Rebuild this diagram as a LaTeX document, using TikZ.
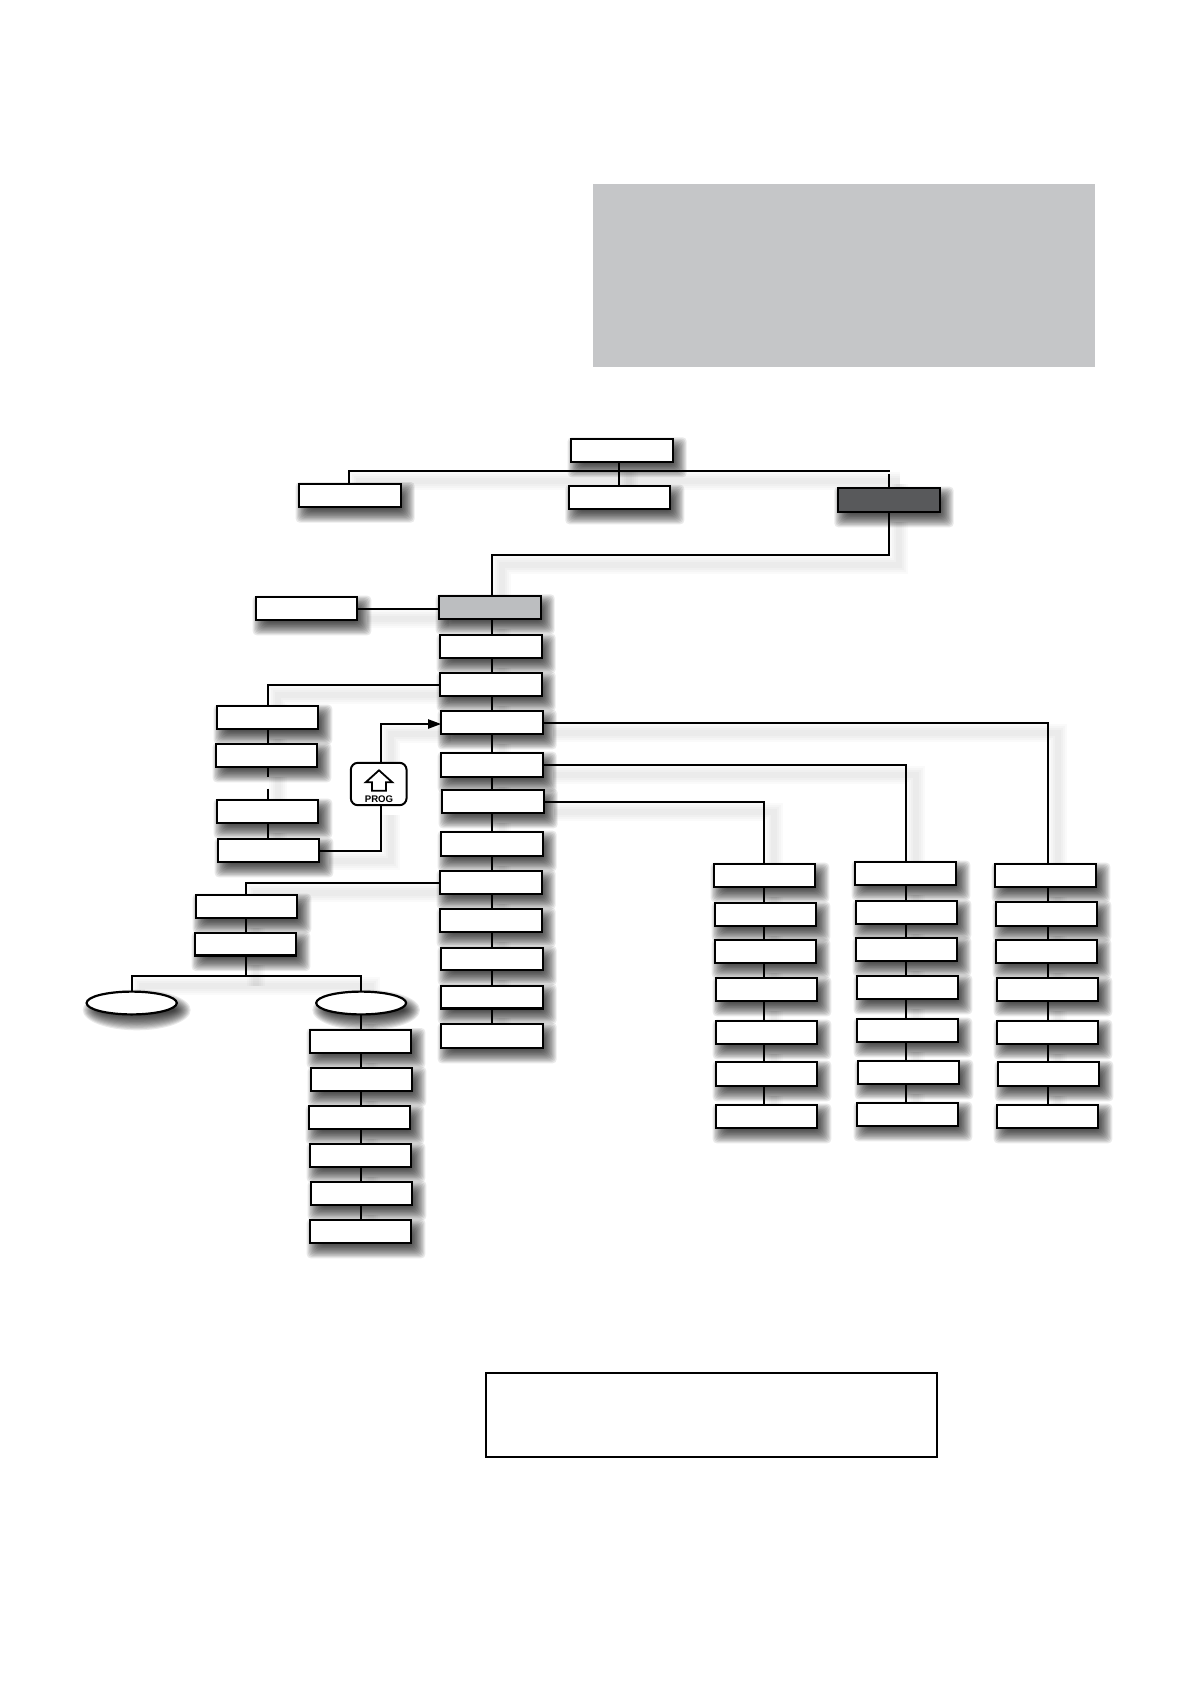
\documentclass[tikz,border=0pt]{standalone}
\usepackage{fontspec}
\setmainfont{Liberation Sans}
\usetikzlibrary{shapes.geometric,arrows.meta,calc}
\pgfdeclarelayer{shadowlayer}
\pgfdeclarelayer{connlayer}
\pgfsetlayers{shadowlayer,connlayer,main}
\definecolor{panelgray}{HTML}{C5C6C8}
\definecolor{midgray}{HTML}{BCBEC0}
\definecolor{darkgray}{HTML}{58595B}
\tikzset{
  wire/.style={draw=black,line width=2pt},
  wireshade/.style={draw=black,opacity=.02,line cap=butt,transform canvas={shift={(10pt,-10pt)}}},
  boxshape/.style={draw=black,line width=2.2pt,fill=white,rectangle,inner sep=0pt,outer sep=0pt},
  ellshape/.style={draw=black,line width=2.2pt,fill=white,ellipse,inner sep=0pt,outer sep=0pt},
  softshade/.style={fill=black,opacity=.085}
}
% plain box without shadow: name, x0,y0,x1,y1, options
\newcommand\plainbox[6][]{%
  \node[boxshape,#1,minimum width={(#4-#2-1.6)*1pt},minimum height={(#5-#3-1.2)*1pt}]
    (#6) at ({(#2+#4)/2-0.3},{(#3+#5)/2}) {};}
% box with soft shadow
\newcommand\shbox[6][]{%
  \begin{pgfonlayer}{shadowlayer}
    \foreach \e in {8,6.8,5.6,4.4,3.2,2,0.8,-0.4,-1.6,-2.8,-4,-5.2,-6.4,-7.6}{%
      \fill[softshade,rounded corners=4pt] ({#2+5-\e},{#3+7-\e}) rectangle ({#4+5+\e},{#5+7+\e});}
  \end{pgfonlayer}%
  \plainbox[#1]{#2}{#3}{#4}{#5}{#6}}
% ellipse with soft shadow
\newcommand\sell[5]{%
  \begin{pgfonlayer}{shadowlayer}
    \foreach \e in {8,6.8,5.6,4.4,3.2,2,0.8,-0.4,-1.6,-2.8,-4,-5.2,-6.4,-7.6}{%
      \pgfmathsetmacro\rx{(#3-#1)/2+\e}\pgfmathsetmacro\ry{(#4-#2)/2+\e}%
      \fill[softshade] ({(#1+#3)/2+5},{(#2+#4)/2+7}) ellipse [x radius=\rx, y radius=\ry];}
  \end{pgfonlayer}%
  \node[ellshape,minimum width={(#3-#1-1.8)*1pt},minimum height={(#4-#2-1.8)*1pt}]
    (#5) at ({(#1+#3)/2},{(#2+#4)/2}) {};}
% connector: line plus faint offset shadow
\newcommand\conn[2][]{%
  \begin{pgfonlayer}{shadowlayer}
    \foreach \w in {18,14,10,6}{\draw[wireshade,line width=\w pt] #2;}
  \end{pgfonlayer}%
  \begin{pgfonlayer}{connlayer}
    \draw[wire,#1] #2;
  \end{pgfonlayer}}
\begin{document}
\begin{tikzpicture}[x=1pt,y=-1pt]
\path[use as bounding box] (0,0) rectangle (1191,1684);
\begin{pgfonlayer}{shadowlayer}
\fill[white] (0,0) rectangle (1191,1684);
\end{pgfonlayer}
% panels
\node[draw=none,fill=panelgray,rectangle,inner sep=0pt,outer sep=0pt,minimum width=502.2pt,minimum height=183.2pt] (panel) at (843.6,275.1) {};
\plainbox[line width=2pt]{485}{1372.2}{937.6}{1457.4}{note}
% top
\shbox{570.7}{438.3}{673.7}{462.3}{top}
\shbox{298.7}{483}{401.7}{507.7}{ta}
\shbox{568.3}{485.7}{671.3}{509.3}{tb}
\shbox[fill=darkgray]{837.3}{487.7}{940.7}{512.3}{tc}
% centre column
\shbox{255.7}{596.7}{358.3}{620.3}{side}
\shbox[fill=midgray]{438.7}{595.3}{541.7}{619.3}{cz}
\shbox{439.7}{634.7}{542.7}{658.3}{ca}
\shbox{439.7}{672.7}{542.7}{696.3}{cb}
\shbox{440.7}{710.7}{543.7}{734.3}{cc}
\shbox{440.7}{752.7}{543.7}{777.3}{cd}
\shbox{441.7}{789.7}{544.7}{813.3}{ce}
\shbox{440.7}{831.7}{543.7}{856.3}{cf}
\shbox{439.7}{870.7}{542.7}{894.3}{cg}
\shbox{439.7}{908.7}{542.7}{932.3}{ch}
\shbox{440.7}{947}{543.7}{970.3}{ci}
\shbox{440.7}{985}{543.7}{1009}{cj}
\shbox{440.7}{1023.7}{543.7}{1048.3}{ck}
% left column
\shbox{216.7}{705.7}{319.3}{729.3}{la}
\shbox{215.7}{743.7}{318.3}{767.3}{lb}
\shbox{216.7}{799.7}{319.3}{823.3}{lc}
\shbox{217.7}{838.7}{320.3}{862.3}{ld}
% lower left
\shbox{195.7}{894.7}{298.3}{918.3}{ma}
\shbox{194.7}{932.7}{297.3}{956}{mb}
\sell{85.7}{990.7}{177.7}{1015.3}{ova}
\sell{315.3}{990.7}{407}{1015.3}{ovb}
\shbox{309.7}{1029}{412.3}{1053.3}{na}
\shbox{310.7}{1067.7}{413.3}{1091.3}{nb}
\shbox{308.7}{1105.7}{411.3}{1129.3}{nc}
\shbox{309.7}{1143.7}{412.3}{1167.3}{nd}
\shbox{310.7}{1181.7}{413.3}{1205.3}{ne}
\shbox{309.7}{1219.7}{412.3}{1243.3}{nf}
% right columns
\shbox{713.7}{863.7}{816.3}{887.3}{pa}
\shbox{714.7}{902.7}{817.3}{926.3}{pb}
\shbox{714.7}{939.7}{817.3}{963.3}{pc}
\shbox{715.7}{977.7}{818.3}{1001.3}{pd}
\shbox{715.7}{1020.7}{818.3}{1044.3}{pe}
\shbox{715.7}{1061.7}{818.3}{1086.3}{pf}
\shbox{715.7}{1104.7}{818.3}{1128.3}{pg}
\shbox{854.7}{861.7}{957.3}{885.3}{qa}
\shbox{855.7}{900.7}{958.3}{924.3}{qb}
\shbox{855.7}{937.7}{958.3}{961.3}{qc}
\shbox{856.7}{975.7}{959.3}{999.3}{qd}
\shbox{856.7}{1018.7}{959.3}{1042.3}{qe}
\shbox{857.7}{1060.7}{960.3}{1084.3}{qf}
\shbox{856.7}{1102.7}{959.3}{1126.3}{qg}
\shbox{994.7}{863.7}{1097.3}{887.3}{ra}
\shbox{995.7}{901.7}{1098.3}{926.3}{rb}
\shbox{995.7}{939.7}{1098.3}{963.3}{rc}
\shbox{996.7}{977.7}{1099.3}{1001.3}{rd}
\shbox{996.7}{1020.7}{1099.3}{1044.3}{re}
\shbox{997.7}{1061.7}{1100.3}{1086.3}{rf}
\shbox{996.7}{1104.7}{1099.3}{1128.3}{rg}
% PROG key
\node[draw=black,line width=2pt,fill=white,rectangle,rounded corners=7pt,inner sep=0pt,outer sep=0pt,
      minimum width=55.7pt,minimum height=42.4pt] (prog) at (378.7,784) {};
\draw[line width=1.8pt,line join=miter,fill=white]
  (379,770.3) -- (392.3,782.3) -- (386,782.3) -- (386,790.7) -- (372,790.7) -- (372,782.3) -- (365.7,782.3) -- cycle;
\node[inner sep=0pt,font=\bfseries\fontsize{9.6pt}{10pt}\selectfont] (progtext) at (379,799.3) {PROG};
% trunk references
\coordinate (xT) at (619,0);
\coordinate (xC) at (492,0);
\coordinate (xL) at (268,0);
\coordinate (xM) at (246,0);
\coordinate (xN) at (361,0);
\coordinate (xP) at (764,0);
\coordinate (xQ) at (906,0);
\coordinate (xR) at (1048,0);
\coordinate (xK) at (381,0);
\coordinate (barL) at (348.7,471);
\coordinate (barR) at (889.7,471);
\coordinate (barS) at (889,473.5);
\coordinate (bendC) at (492,555);
\coordinate (barM) at (246,975.7);
\coordinate (tipY) at (0,724);
% connectors
\conn{(top.south -| xT) -- (tb.north -| xT)}
\conn{(ta.north -| barL) -- (barL) -- (barR)}
\conn{(barS) -- (tc.north -| barS)}
\conn{(tc.south) |- (bendC) -- (cz.north -| bendC)}
\conn{(side.east) -- (side.east -| cz.west)}
\foreach \a/\b in {cz/ca,ca/cb,cb/cc,cc/cd,cd/ce,ce/cf,cf/cg,cg/ch,ch/ci,ci/cj,cj/ck}{%
  \conn{(\a.south -| xC) -- (\b.north -| xC)}}
\conn{(cb.west) -| (la.north -| xL)}
\foreach \a/\b in {la/lb,lc/ld}{\conn{(\a.south -| xL) -- (\b.north -| xL)}}
\conn[dash pattern=on 10pt off 12pt on 11pt]{(lb.south -| xL) -- (lc.north -| xL)}
\conn{(ld.east) -| (prog.south -| xK)}
\conn[-{Triangle[length=13pt,width=9pt]}]{(prog.north -| xK) |- (tipY -| cc.west)}
\conn{(cg.west) -| (ma.north -| xM)}
\conn{(ma.south -| xM) -- (mb.north -| xM)}
\conn{(mb.south -| xM) -- (barM)}
\conn{(ova.north) |- (barM) -| (ovb.north)}
\conn{(ovb.south -| xN) -- (na.north -| xN)}
\foreach \a/\b in {na/nb,nb/nc,nc/nd,nd/ne,ne/nf}{\conn{(\a.south -| xN) -- (\b.north -| xN)}}
\conn{(cc.east) -| (ra.north -| xR)}
\conn{(cd.east) -| (qa.north -| xQ)}
\conn{(ce.east) -| (pa.north -| xP)}
\foreach \a/\b in {pa/pb,pb/pc,pc/pd,pd/pe,pe/pf,pf/pg}{\conn{(\a.south -| xP) -- (\b.north -| xP)}}
\foreach \a/\b in {qa/qb,qb/qc,qc/qd,qd/qe,qe/qf,qf/qg}{\conn{(\a.south -| xQ) -- (\b.north -| xQ)}}
\foreach \a/\b in {ra/rb,rb/rc,rc/rd,rd/re,re/rf,rf/rg}{\conn{(\a.south -| xR) -- (\b.north -| xR)}}
\end{tikzpicture}
\end{document}
